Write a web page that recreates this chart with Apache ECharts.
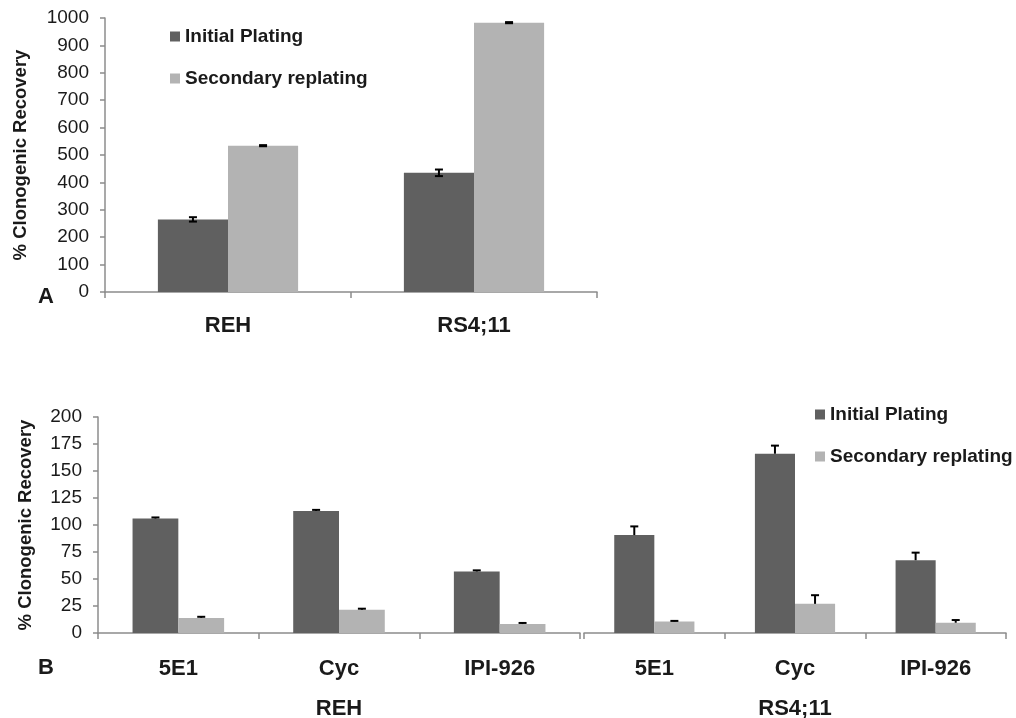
<!DOCTYPE html>
<html>
<head>
<meta charset="utf-8">
<script src="https://cdn.jsdelivr.net/npm/echarts@6/dist/echarts.min.js"></script>
<style>
  html, body { margin: 0; padding: 0; background: #fff; }
  #main { width: 1016px; height: 718px; }
</style>
</head>
<body>
<div id="main"></div>
<script>
// panel A
var cellLines = ['REH', 'RS4;11'];
var aInitial = [265, 435];
var aInitialErr = [8, 12];
var aSecondary = [534, 983];
var aSecondaryErr = [2, 2];

// panel B
var treatments = ['5E1', 'Cyc', 'IPI-926'];
var rehInitial = [106, 113, 57];
var rehInitialErr = [1, 1, 1];
var rehSecondary = [14, 21.5, 8.3];
var rehSecondaryErr = [1, 1, 1];
var rsInitial = [90.7, 166, 67.4];
var rsInitialErr = [8, 7.5, 7];
var rsSecondary = [10.7, 27, 9.5];
var rsSecondaryErr = [0.5, 8, 2.5];

var darkGrey = '#606060';
var lightGrey = '#b3b3b3';
var axisGrey = '#8c8c8c';
var txt = '#1a1a1a';
var catGap = 0.43;

function withErr(vals, errs) {
    return vals.map(function (v, i) { return [i, v, errs[i]]; });
}

// side = -1 left bar, +1 right bar; both = draw the lower half too
function errBar(side, both) {
    return function (params, api) {
        var i = api.value(0), v = api.value(1), e = api.value(2);
        var base = api.coord([i, v]);
        var band = api.size([1, 0])[0];
        var bw = band * (1 - catGap) / 2;
        var x = base[0] + side * bw / 2;
        var top = api.coord([i, v + e])[1];
        var bot = both ? api.coord([i, v - e])[1] : base[1];
        var st = { stroke: '#000', lineWidth: 2 };
        var kids = [
            { type: 'line', shape: { x1: x, y1: top, x2: x, y2: bot }, style: st },
            { type: 'line', shape: { x1: x - 4, y1: top, x2: x + 4, y2: top }, style: st }
        ];
        if (both) kids.push({ type: 'line', shape: { x1: x - 4, y1: bot, x2: x + 4, y2: bot }, style: st });
        return { type: 'group', children: kids };
    };
}

function yAx(grid, max, interval, nameGap, show) {
    return {
        type: 'value', gridIndex: grid, min: 0, max: max, interval: interval,
        show: show,
        name: '% Clonogenic Recovery', nameLocation: 'middle', nameRotate: 90, nameGap: nameGap,
        nameTextStyle: { fontFamily: 'Liberation Sans', fontWeight: 'bold', fontSize: 18.5, color: txt },
        axisLine: { show: true, lineStyle: { color: axisGrey, width: 1.5 } },
        axisTick: { show: true, length: 5, lineStyle: { color: axisGrey, width: 1.5 } },
        axisLabel: {
            margin: 16, fontFamily: 'Liberation Sans', fontSize: 19, color: txt,
            formatter: function (v) { return String(v); }
        },
        splitLine: { show: false }
    };
}

function xAx(grid, cats, margin) {
    return {
        type: 'category', gridIndex: grid, data: cats,
        axisLine: { show: true, lineStyle: { color: axisGrey, width: 1.5 } },
        axisTick: { show: true, length: 6, lineStyle: { color: axisGrey, width: 1.5 } },
        axisLabel: { margin: margin, fontFamily: 'Liberation Sans', fontWeight: 'bold', fontSize: 22, color: txt }
    };
}

function groupAx(grid, name) {
    return {
        type: 'category', gridIndex: grid, data: [name], position: 'bottom',
        axisLine: { show: false }, axisTick: { show: false },
        axisLabel: { margin: 65, fontFamily: 'Liberation Sans', fontWeight: 'bold', fontSize: 22, color: txt }
    };
}

function bars(name, color, xi, yi, vals) {
    return {
        name: name, type: 'bar', xAxisIndex: xi, yAxisIndex: yi, data: vals,
        barGap: '0%', barCategoryGap: (catGap * 100) + '%',
        itemStyle: { color: color }
    };
}

function errs(xi, yi, vals, e, side, both) {
    return {
        type: 'custom', xAxisIndex: xi, yAxisIndex: yi, data: withErr(vals, e),
        encode: { x: 0, y: 1 }, renderItem: errBar(side, both), z: 5, silent: true
    };
}

var legendStyle = {
    orient: 'vertical', icon: 'rect', itemWidth: 10, itemHeight: 10, itemGap: 23,
    data: ['Initial Plating', 'Secondary replating'],
    textStyle: { fontFamily: 'Liberation Sans', fontWeight: 'bold', fontSize: 19, color: txt }
};

var option = {
    animation: false,
    title: [
        { text: 'A', left: 38, top: 286, padding: 0, textStyle: { fontFamily: 'Liberation Sans', fontWeight: 'bold', fontSize: 22, color: txt } },
        { text: 'B', left: 38, top: 657, padding: 0, textStyle: { fontFamily: 'Liberation Sans', fontWeight: 'bold', fontSize: 22, color: txt } }
    ],
    legend: [
        Object.assign({ left: 165, top: 22 }, legendStyle),
        Object.assign({ left: 810, top: 400 }, legendStyle)
    ],
    grid: [
        { left: 105, top: 18, width: 492, height: 274, outerBoundsMode: 'none' },
        { left: 98, top: 417, width: 482, height: 216, outerBoundsMode: 'none' },
        { left: 584, top: 417, width: 422, height: 216, outerBoundsMode: 'none' }
    ],
    xAxis: [
        xAx(0, cellLines, 23),
        xAx(1, treatments, 25),
        xAx(2, treatments, 25),
        groupAx(1, 'REH'),
        groupAx(2, 'RS4;11')
    ],
    yAxis: [
        yAx(0, 1000, 100, 75, true),
        yAx(1, 200, 25, 63, true),
        yAx(2, 200, 25, 0, false)
    ],
    series: [
        bars('Initial Plating', darkGrey, 0, 0, aInitial),
        bars('Secondary replating', lightGrey, 0, 0, aSecondary),
        errs(0, 0, aInitial, aInitialErr, -1, true),
        errs(0, 0, aSecondary, aSecondaryErr, 1, true),

        bars('Initial Plating', darkGrey, 1, 1, rehInitial),
        bars('Secondary replating', lightGrey, 1, 1, rehSecondary),
        errs(1, 1, rehInitial, rehInitialErr, -1, false),
        errs(1, 1, rehSecondary, rehSecondaryErr, 1, false),

        bars('Initial Plating', darkGrey, 2, 2, rsInitial),
        bars('Secondary replating', lightGrey, 2, 2, rsSecondary),
        errs(2, 2, rsInitial, rsInitialErr, -1, false),
        errs(2, 2, rsSecondary, rsSecondaryErr, 1, false)
    ]
};

var chart = echarts.init(document.getElementById('main'));
chart.setOption(option);
</script>
</body>
</html>
